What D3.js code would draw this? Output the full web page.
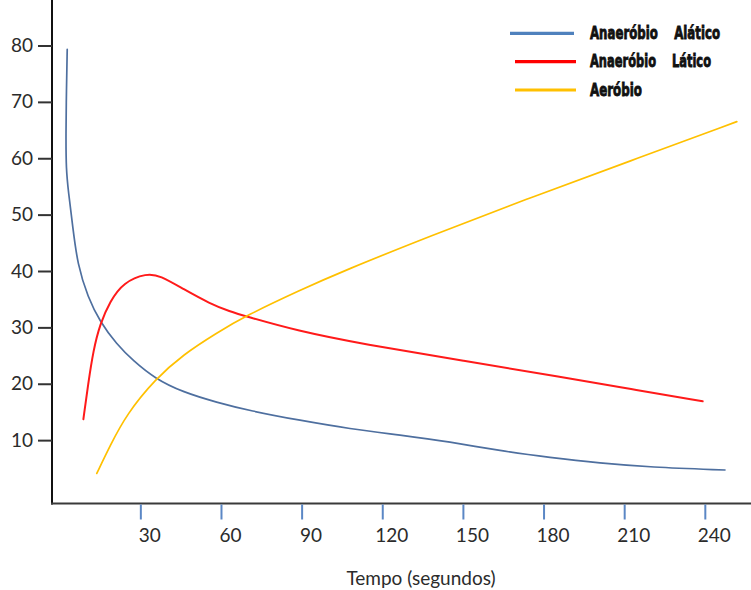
<!DOCTYPE html>
<html>
<head>
<meta charset="utf-8">
<script src="https://cdn.jsdelivr.net/npm/d3@7"></script>
<style>
  html, body { margin: 0; padding: 0; background: #fff; }
  svg { display: block; }
</style>
</head>
<body>
<svg id="chart" width="751" height="590"></svg>
<script>
// ---- Data ----
const xTicks = [30, 60, 90, 120, 150, 180, 210, 240];
const yTicks = [10, 20, 30, 40, 50, 60, 70, 80];
const seriesNames = ["Anaeróbio\u00A0\u00A0\u00A0\u00A0Alático", "Anaeróbio\u00A0\u00A0\u00A0\u00A0Lático", "Aeróbio"];

// Anaeróbio Alático
const alaticoTime  = [2.8, 2.5, 2.3, 2.4, 3.2, 4.9, 6.6, 10.5, 15.0, 21.2, 27.3, 35.5, 45.9, 58.4, 70.8, 89.4, 108.0, 126.6, 145.2, 163.8, 182.4, 201.0, 219.6, 247.5];
const alaticoValue = [79.3, 72.0, 64.0, 58.0, 54.2, 47.7, 41.2, 35.3, 31.0, 27.0, 24.1, 20.9, 18.5, 16.7, 15.2, 13.5, 12.0, 10.9, 9.7, 8.1, 6.9, 5.9, 5.2, 4.7];

// Anaeróbio Lático
const laticoTime  = [8.8, 10.6, 12.5, 15.0, 18.7, 23.7, 32.4, 37.3, 46.0, 55.9, 63.4, 69.0, 88.2, 113.0, 150.2, 187.4, 212.2, 239.2];
const laticoValue = [13.7, 20.0, 25.9, 30.6, 34.6, 38.0, 39.6, 39.2, 36.8, 34.2, 32.8, 32.0, 29.4, 27.0, 24.1, 21.1, 19.1, 16.9];

// Aeróbio
const aerobioTime  = [13.8, 18.7, 24.9, 35.5, 46.0, 58.4, 69.0, 89.4, 105.5, 137.8, 175.0, 212.2, 251.9];
const aerobioValue = [4.1, 9.0, 14.6, 20.8, 25.2, 29.0, 32.0, 36.6, 40.0, 46.2, 53.0, 59.5, 66.5];

const seriesColors = ["#4f81bd", "#ff0000", "#ffc000"];
const lineColors   = ["#4e6f9f", "#ff1a1a", "#ffc000"];

// ---- Chart ----
const svg = d3.select("#chart");
const W = 751, H = 590;

const x = d3.scaleLinear().domain([0, 250]).range([59.7, 731.7]);
const y = d3.scaleLinear().domain([0, 80]).range([496.5, 45.5]);

const axisX0 = 52, axisY0 = 503.5;

// Y axis line
svg.append("line")
  .attr("x1", axisX0).attr("x2", axisX0)
  .attr("y1", 0).attr("y2", axisY0 + 1)
  .attr("stroke", "#111").attr("stroke-width", 2);

// X axis line
svg.append("line")
  .attr("x1", axisX0 - 1).attr("x2", W)
  .attr("y1", axisY0).attr("y2", axisY0)
  .attr("stroke", "#3a3a3a").attr("stroke-width", 2.2);

// Y ticks & labels
const yAxis = d3.axisLeft(y).tickValues(yTicks).tickSize(14).tickPadding(5).tickFormat(d3.format("d"));
const gy = svg.append("g").attr("transform", `translate(${axisX0},0)`).call(yAxis);
gy.select(".domain").remove();
gy.selectAll(".tick line").attr("stroke", "#333").attr("stroke-width", 2);
gy.selectAll(".tick text")
  .attr("font-family", "Lato, 'Open Sans', sans-serif")
  .attr("font-size", 19)
  .attr("fill", "#2b2b2b");

// X ticks & labels
const xAxis = d3.axisBottom(x).tickValues(xTicks).tickSize(15).tickPadding(9).tickFormat(d3.format("d"));
const gx = svg.append("g").attr("transform", `translate(0,${axisY0 + 1})`).call(xAxis);
gx.select(".domain").remove();
gx.selectAll(".tick line").attr("stroke", "#5b87c5").attr("stroke-width", 2);
gx.selectAll(".tick text")
  .attr("dx", 9)
  .attr("font-family", "Lato, 'Open Sans', sans-serif")
  .attr("font-size", 19)
  .attr("fill", "#2b2b2b");

// X axis title
svg.append("text")
  .attr("x", 421).attr("y", 585)
  .attr("text-anchor", "middle")
  .attr("font-family", "Lato, 'Open Sans', sans-serif")
  .attr("font-size", 19)
  .attr("fill", "#2b2b2b")
  .text("Tempo (segundos)");

// Lines
const series = [
  { t: alaticoTime, v: alaticoValue },
  { t: laticoTime,  v: laticoValue },
  { t: aerobioTime, v: aerobioValue }
];
const lineGen = d3.line()
  .x(d => x(d[0]))
  .y(d => y(d[1]))
  .curve(d3.curveBasis);

series.forEach((s, i) => {
  const pts = s.t.map((t, k) => [t, s.v[k]]);
  svg.append("path")
    .datum(pts)
    .attr("d", lineGen)
    .attr("fill", "none")
    .attr("stroke", lineColors[i])
    .attr("stroke-width", i === 1 ? 2 : 1.7)
    .attr("stroke-linecap", "round");
});

// Legend
const legend = svg.append("g");
const legY = [33.3, 61.7, 90];
const legX1 = [510, 515, 515];
const legLen = [130, 121, 52];
const legX0 = 590;
seriesNames.forEach((n, i) => {
  legend.append("line")
    .attr("x1", legX1[i]).attr("x2", 574 + (i > 0 ? 2 : 0))
    .attr("y1", legY[i]).attr("y2", legY[i])
    .attr("stroke", seriesColors[i]).attr("stroke-width", 3.2);
  legend.append("g")
    .attr("transform", `translate(${legX0},${legY[i] + 5.5}) scale(1,1.28)`)
    .append("text")
    .attr("x", 0).attr("y", 0)
    .attr("font-family", "'DejaVu Sans', sans-serif")
    .attr("font-weight", "bold")
    .attr("font-size", 14)
    .attr("fill", "#111")
    .attr("stroke", "#111")
    .attr("stroke-width", 0.7)
    .attr("textLength", legLen[i])
    .attr("lengthAdjust", "spacingAndGlyphs")
    .text(n);
});
</script>
</body>
</html>
